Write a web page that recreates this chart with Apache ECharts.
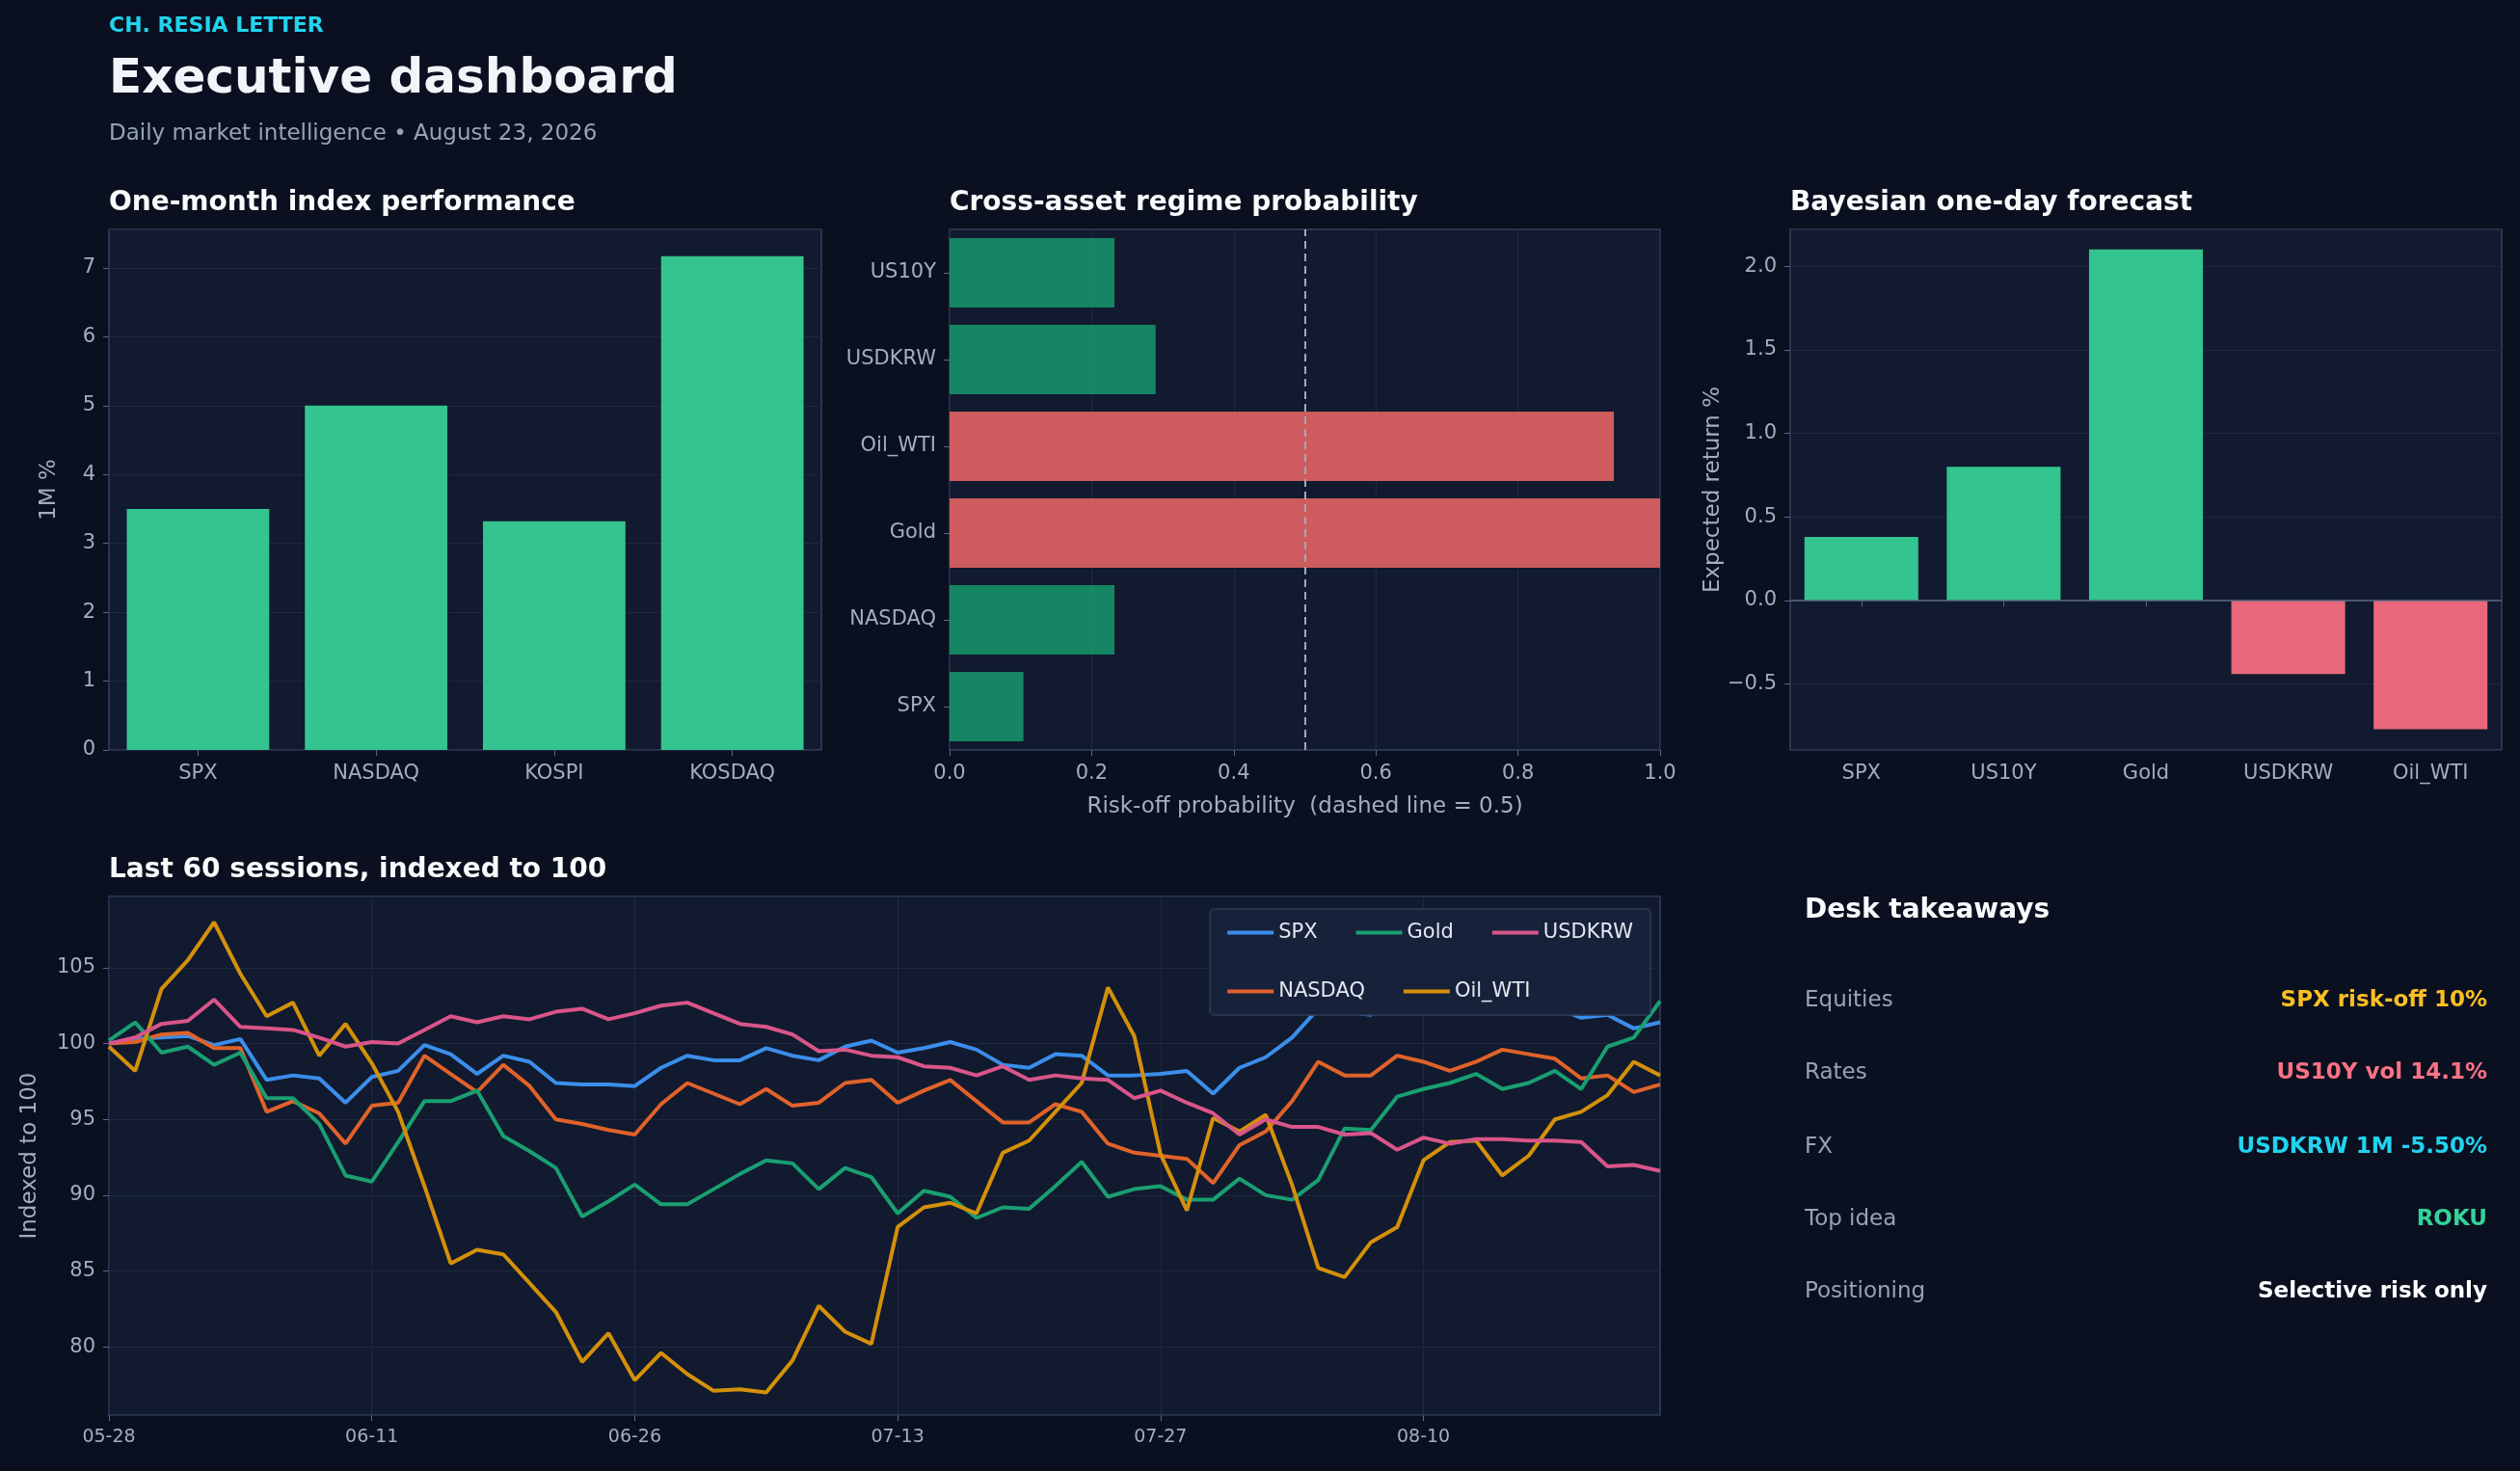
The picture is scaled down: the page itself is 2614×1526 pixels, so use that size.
<!DOCTYPE html>
<html><head><meta charset="utf-8">
<script src="https://cdn.jsdelivr.net/npm/echarts@6/dist/echarts.min.js"></script>
<style>html,body{margin:0;padding:0;background:#0b1020;}#c{width:2614px;height:1526px;}</style>
</head><body><div id="c"></div>
<script>
const perfCats = ['SPX','NASDAQ','KOSPI','KOSDAQ'];
const perfVals = [3.5, 5.0, 3.32, 7.17];
const regimeCats = ['SPX','NASDAQ','Gold','Oil_WTI','USDKRW','US10Y'];
const regimeVals = [0.104, 0.232, 1.0, 0.935, 0.29, 0.232];
const fcCats = ['SPX','US10Y','Gold','USDKRW','Oil_WTI'];
const fcVals = [0.38, 0.80, 2.10, -0.44, -0.77];
const dates = ['05-28','05-29','06-01','06-02','06-03','06-04','06-05','06-08','06-09','06-10','06-11','06-12',
'06-15','06-16','06-17','06-18','06-22','06-23','06-24','06-25','06-26','06-29','06-30','07-01','07-02',
'07-06','07-07','07-08','07-09','07-10','07-13','07-14','07-15','07-16','07-17','07-20','07-21','07-22','07-23','07-24',
'07-27','07-28','07-29','07-30','07-31','08-03','08-04','08-05','08-06','08-07','08-10','08-11','08-12','08-13','08-14',
'08-17','08-18','08-19','08-20','08-21'];
const spx = [100,100.3,100.4,100.5,99.9,100.3,97.6,97.9,97.7,96.1,97.8,98.2,99.9,99.3,98.0,99.2,98.8,97.4,97.3,97.3,97.2,98.4,99.2,98.9,98.9,99.7,99.2,98.9,99.8,100.2,
99.4,99.7,100.1,99.6,98.6,98.4,99.3,99.2,97.9,97.9,98.0,98.2,96.7,98.4,99.1,100.4,102.3,102.1,101.9,102.6,102.5,102.2,102.4,103.1,102.9,102.4,101.7,101.9,101.0,101.4];
const nasdaq = [100,100.1,100.6,100.7,99.7,99.7,95.5,96.2,95.4,93.4,95.9,96.1,99.2,98.0,96.8,98.6,97.2,95.0,94.7,94.3,94.0,96.0,97.4,96.7,96.0,97.0,95.9,96.1,97.4,97.6,
96.1,96.9,97.6,96.2,94.8,94.8,96.0,95.5,93.4,92.8,92.6,92.4,90.8,93.3,94.2,96.2,98.8,97.9,97.9,99.2,98.8,98.2,98.8,99.6,99.3,99.0,97.7,97.9,96.8,97.3];
const gold = [100.2,101.4,99.4,99.8,98.6,99.4,96.4,96.4,94.7,91.3,90.9,93.5,96.2,96.2,96.9,93.9,92.9,91.8,88.6,89.6,90.7,89.4,89.4,90.4,91.4,92.3,92.1,90.4,91.8,91.2,
88.8,90.3,89.9,88.5,89.2,89.1,90.6,92.2,89.9,90.4,90.6,89.7,89.7,91.1,90.0,89.7,91.0,94.4,94.3,96.5,97.0,97.4,98.0,97.0,97.4,98.2,97.0,99.8,100.4,102.8];
const oil = [99.8,98.2,103.6,105.5,108.0,104.6,101.8,102.7,99.2,101.3,98.7,95.5,90.6,85.5,86.4,86.1,84.2,82.3,79.0,80.9,77.8,79.6,78.2,77.1,77.2,77.0,79.1,82.7,81.0,80.2,
87.9,89.2,89.5,88.8,92.8,93.6,95.5,97.4,103.7,100.5,92.7,89.0,95.1,94.2,95.3,90.7,85.2,84.6,86.9,87.9,92.3,93.5,93.6,91.3,92.6,95.0,95.5,96.6,98.8,97.9];
const usdkrw = [100,100.4,101.3,101.5,102.9,101.1,101.0,100.9,100.4,99.8,100.1,100.0,100.9,101.8,101.4,101.8,101.6,102.1,102.3,101.6,102.0,102.5,102.7,102.0,101.3,101.1,100.6,99.5,99.6,99.2,
99.1,98.5,98.4,97.9,98.5,97.6,97.9,97.7,97.6,96.4,96.9,96.1,95.4,94.0,95.0,94.5,94.5,94.0,94.1,93.0,93.8,93.4,93.7,93.7,93.6,93.6,93.5,91.9,92.0,91.6];
const takeLabels = ['Equities','Rates','FX','Top idea','Positioning'];
const takeValues = ['SPX risk-off 10%','US10Y vol 14.1%','USDKRW 1M -5.50%','ROKU','Selective risk only'];
const takeColors = ['#fbbf24','#fb7185','#22d3ee','#34d399','#ffffff'];

const F = 'DejaVu Sans';
const TICK = '#a3adc2', GRIDC = '#1e2840', BORDER = '#34415f', PLOT = '#111a2e';
const GREEN = '#34c48f';
const ch = echarts.init(document.getElementById('c'));
const gridBase = {show:true, backgroundColor:PLOT, borderColor:BORDER, borderWidth:1.5, containLabel:false};
const lbl = {color:TICK, fontFamily:F, fontSize:21};
const split = {show:true, lineStyle:{color:GRIDC, width:1.2}};
const axLine = {show:false};
const tick = {show:true, lineStyle:{color:'#5a6785'}, length:6};

const graphic = [
 {type:'text', left:113, top:16, style:{text:'CH. RESIA LETTER', fill:'#22d3ee', font:'bold 22px "DejaVu Sans"'}},
 {type:'text', left:113, top:58, style:{text:'Executive dashboard', fill:'#f1f5f9', font:'bold 50px "DejaVu Sans"'}},
 {type:'text', left:113, top:128, style:{text:'Daily market intelligence \u2022 August 23, 2026', fill:'#94a3b8', font:'23px "DejaVu Sans"'}},
 {type:'text', left:113, top:197, style:{text:'One-month index performance', fill:'#f8fafc', font:'bold 28px "DejaVu Sans"'}},
 {type:'text', left:985, top:197, style:{text:'Cross-asset regime probability', fill:'#f8fafc', font:'bold 28px "DejaVu Sans"'}},
 {type:'text', left:1857, top:197, style:{text:'Bayesian one-day forecast', fill:'#f8fafc', font:'bold 28px "DejaVu Sans"'}},
 {type:'text', left:113, top:889, style:{text:'Last 60 sessions, indexed to 100', fill:'#f8fafc', font:'bold 28px "DejaVu Sans"'}},
 {type:'text', left:1872, top:931, style:{text:'Desk takeaways', fill:'#f8fafc', font:'bold 28px "DejaVu Sans"'}}
];
const rowY = [1040,1115,1192,1267,1342];
takeLabels.forEach((t,i)=>{
 graphic.push({type:'text', left:1872, top:rowY[i]-13, style:{text:t, fill:'#94a3b8', font:'23px "DejaVu Sans"'}});
 graphic.push({type:'text', right:2614-2580, top:rowY[i]-13, style:{text:takeValues[i], fill:takeColors[i], font:'bold 23px "DejaVu Sans"', align:'right'}});
});

ch.setOption({
 backgroundColor:'#0b1020',
 animation:false,
 graphic: graphic,
 grid:[
  Object.assign({left:113, top:238, width:739, height:540}, gridBase),
  Object.assign({left:985, top:238, width:737, height:540}, gridBase),
  Object.assign({left:1857, top:238, width:738, height:540}, gridBase),
  Object.assign({left:113, top:930, width:1609, height:538}, gridBase)
 ],
 legend:{
  top:943, right:2614-1712, width:560, itemWidth:48, itemHeight:4, itemGap:40,
  padding:[14,18,14,18], backgroundColor:'#17213a', borderColor:'#2f3b58', borderWidth:1.5, borderRadius:4,
  textStyle:{color:'#e2e8f0', fontFamily:F, fontSize:21},
  data:['SPX','Gold','USDKRW','NASDAQ','Oil_WTI'],
  icon:'rect'
 },
 xAxis:[
  {gridIndex:0, type:'category', data:perfCats, axisLabel:Object.assign({margin:14},lbl), axisTick:Object.assign({alignWithLabel:true},tick), axisLine:axLine, splitLine:{show:false}},
  {gridIndex:1, type:'value', min:0, max:1, interval:0.2, axisLabel:Object.assign({margin:14, formatter:v=>v.toFixed(1)},lbl), axisTick:tick, axisLine:axLine, splitLine:split,
   name:'Risk-off probability  (dashed line = 0.5)', nameLocation:'middle', nameGap:48, nameTextStyle:{color:TICK, fontFamily:F, fontSize:23}},
  {gridIndex:2, type:'category', data:fcCats, axisLabel:Object.assign({margin:14},lbl), axisTick:Object.assign({alignWithLabel:true},tick), axisLine:axLine, splitLine:{show:false}},
  {gridIndex:3, type:'category', data:dates, boundaryGap:false, axisLabel:Object.assign({interval:9, margin:14}, lbl, {fontSize:19}),
   axisTick:Object.assign({interval:9},tick), axisLine:axLine, splitLine:{show:true, interval:9, lineStyle:{color:GRIDC, width:1.2}}}
 ],
 yAxis:[
  {gridIndex:0, type:'value', min:0, max:7.56, splitNumber:8, axisLabel:Object.assign({margin:14, showMaxLabel:false},lbl), axisTick:tick, axisLine:axLine, splitLine:split,
   name:'1M %', nameLocation:'middle', nameGap:50, nameTextStyle:{color:TICK, fontFamily:F, fontSize:23}},
  {gridIndex:1, type:'category', data:regimeCats, axisLabel:Object.assign({margin:14},lbl), axisTick:Object.assign({alignWithLabel:true},tick), axisLine:axLine, splitLine:{show:false}},
  {gridIndex:2, type:'value', min:-0.894, max:2.22, splitNumber:6, axisLabel:Object.assign({margin:14, showMinLabel:false, showMaxLabel:false, formatter:v=>(v<0?'\u2212':'')+Math.abs(v).toFixed(1)},lbl), axisTick:tick, axisLine:axLine, splitLine:split,
   name:'Expected return %', nameLocation:'middle', nameGap:64, nameTextStyle:{color:TICK, fontFamily:F, fontSize:23}},
  {gridIndex:3, type:'value', min:75.5, max:109.7, splitNumber:7, axisLabel:Object.assign({margin:14, showMinLabel:false, showMaxLabel:false},lbl), axisTick:tick, axisLine:axLine, splitLine:split,
   name:'Indexed to 100', nameLocation:'middle', nameGap:70, nameTextStyle:{color:TICK, fontFamily:F, fontSize:23}}
 ],
 series:[
  {type:'bar', xAxisIndex:0, yAxisIndex:0, data:perfVals, barCategoryGap:'20%', itemStyle:{color:GREEN}},
  {type:'bar', xAxisIndex:1, yAxisIndex:1, barCategoryGap:'20%',
   data:regimeVals.map(v=>({value:v, itemStyle:{color: v>=0.5 ? 'rgba(232,100,100,0.88)' : 'rgba(24,160,112,0.8)'}})),
   markLine:{silent:true, symbol:'none', label:{show:false}, lineStyle:{color:'#a0a8bc', type:[8,5], width:2}, data:[{xAxis:0.5}]}},
  {type:'bar', xAxisIndex:2, yAxisIndex:2, barCategoryGap:'20%',
   data:fcVals.map(v=>({value:v, itemStyle:{color: v>=0 ? GREEN : '#e8677a'}})),
   markLine:{silent:true, symbol:'none', label:{show:false}, lineStyle:{color:'#5a6785', type:'solid', width:1.5}, data:[{yAxis:0}]}},
  {name:'SPX', type:'line', xAxisIndex:3, yAxisIndex:3, data:spx, showSymbol:false, lineStyle:{width:4, color:'#3b8eea'}, itemStyle:{color:'#3b8eea'}},
  {name:'NASDAQ', type:'line', xAxisIndex:3, yAxisIndex:3, data:nasdaq, showSymbol:false, lineStyle:{width:4, color:'#e0622a'}, itemStyle:{color:'#e0622a'}},
  {name:'Gold', type:'line', xAxisIndex:3, yAxisIndex:3, data:gold, showSymbol:false, lineStyle:{width:4, color:'#1a9e72'}, itemStyle:{color:'#1a9e72'}},
  {name:'Oil_WTI', type:'line', xAxisIndex:3, yAxisIndex:3, data:oil, showSymbol:false, lineStyle:{width:4, color:'#d4900a'}, itemStyle:{color:'#d4900a'}},
  {name:'USDKRW', type:'line', xAxisIndex:3, yAxisIndex:3, data:usdkrw, showSymbol:false, lineStyle:{width:4, color:'#d9558a'}, itemStyle:{color:'#d9558a'}}
 ]
});
</script></body></html>
